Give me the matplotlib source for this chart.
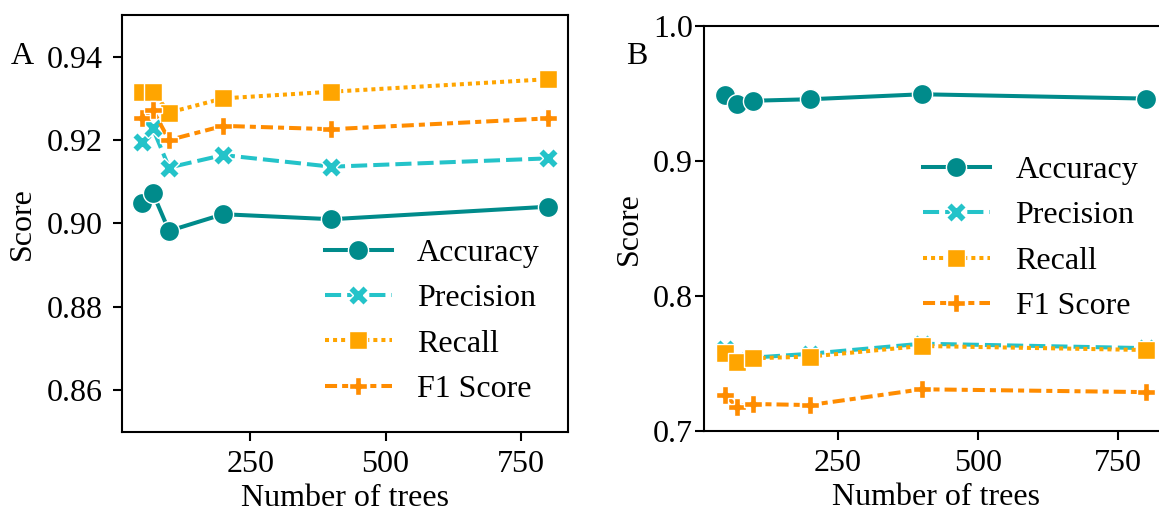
import matplotlib
matplotlib.use("Agg")
import matplotlib.pyplot as plt

plt.rcParams['font.family'] = ['Liberation Serif', 'DejaVu Serif']

# Random forest scores vs. number of trees
n_trees = [50, 70, 100, 200, 400, 800]
metric_names = ['Accuracy', 'Precision', 'Recall', 'F1 Score']

acc_a = [0.9050, 0.9073, 0.8982, 0.9022, 0.9010, 0.9040]
prec_a = [0.9196, 0.9228, 0.9134, 0.9164, 0.9136, 0.9156]
rec_a = [0.9316, 0.9316, 0.9266, 0.9300, 0.9316, 0.9346]
f1_a = [0.9254, 0.9272, 0.9200, 0.9234, 0.9226, 0.9252]

acc_b = [0.9489, 0.9422, 0.9446, 0.9457, 0.9494, 0.9462]
prec_b = [0.7605, 0.7515, 0.7542, 0.7570, 0.7645, 0.7612]
rec_b = [0.7578, 0.7507, 0.7537, 0.7549, 0.7628, 0.7598]
f1_b = [0.7265, 0.7178, 0.7198, 0.7190, 0.7307, 0.7286]

colors = ['#008b8b', '#24c3c9', '#ffa500', '#ff8c00']
markers = ['o', 'X', 's', 'P']
msizes = [14.5, 14, 12.5, 13]
styles = ['-', (0, (4, 1.5)), (0, (1, 1)), (0, (3, 1.25, 1.5, 1.25))]

FS = 23


def draw_panel(ax, series, ylim, yticks, ytick_pad):
    for vals, name, c, m, ms, ls in zip(series, metric_names, colors, markers, msizes, styles):
        ax.plot(n_trees, vals, color=c, lw=2.9, ls=ls, marker=m, ms=ms,
                mec='white', mew=1.0, label=name)
    ax.set_xlim(12.5, 837.5)
    ax.set_ylim(*ylim)
    ax.set_xticks([250, 500, 750])
    ax.set_yticks(yticks)
    ax.tick_params(axis='both', labelsize=FS, length=6.5, width=1.5, direction='out')
    ax.tick_params(axis='y', pad=ytick_pad)
    ax.tick_params(axis='x', pad=7)
    for s in ax.spines.values():
        s.set_linewidth(1.5)
    ax.set_xlabel('Number of trees', fontsize=FS, labelpad=3)
    ax.set_ylabel('Score', fontsize=FS, labelpad=7)


fig = plt.figure(figsize=(11.59, 5.15), dpi=100)
ax_a = fig.add_axes([0.105, 0.1617, 0.3853, 0.8091])
ax_b = fig.add_axes([0.6077, 0.1637, 0.3995, 0.7858])

draw_panel(ax_a, [acc_a, prec_a, rec_a, f1_a], (0.85, 0.95),
           [0.86, 0.88, 0.90, 0.92, 0.94], 7)
ax_a.set_yticklabels(['0.86', '0.88', '0.90', '0.92', '0.94'])
draw_panel(ax_b, [acc_b, prec_b, rec_b, f1_b], (0.7, 1.0),
           [0.7, 0.8, 0.9, 1.0], 1.5)

leg_kw = dict(frameon=False, fontsize=FS, handlelength=2.1, handletextpad=0.8,
              labelspacing=0.5, borderpad=0.4, loc='center left')
ax_a.legend(bbox_to_anchor=(0.39, 0.265), **leg_kw)
ax_b.legend(bbox_to_anchor=(0.41, 0.475), **leg_kw)

fig.text(22 / 1159, 1 - 56 / 515, 'A', fontsize=23, ha='center', va='center')
fig.text(637 / 1159, 1 - 56 / 515, 'B', fontsize=23, ha='center', va='center')

fig.savefig('out.png', dpi=100)
